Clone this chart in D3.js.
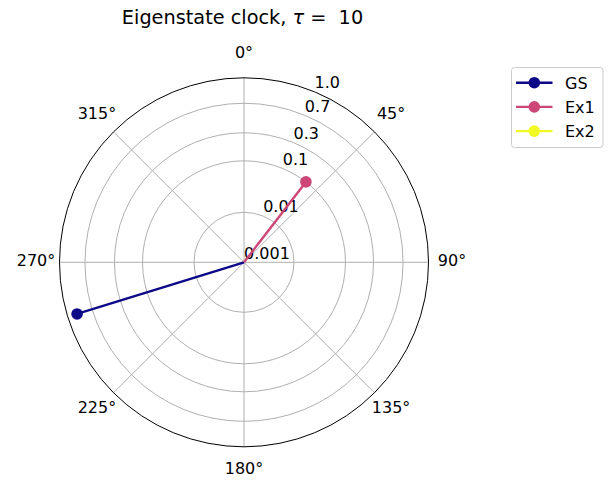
<!DOCTYPE html>
<html>
<head>
<meta charset="utf-8">
<script src="https://cdn.jsdelivr.net/npm/d3@7"></script>
<style>
  body { margin: 0; background: #fff; }
  text { font-family: "DejaVu Sans", sans-serif; fill: #000; }
</style>
</head>
<body>
<div id="chart"></div>
<script>
// eigenstate populations and phases
const states = ["GS", "Ex1", "Ex2"];
const colors = ["#0d0887", "#cc4778", "#f0f921"];
const phaseDeg = [252.8, 37.6, 120];
const population = [0.885, 0.1, 0.0005];

// axis ticks
const thetaTicks = [0, 45, 90, 135, 180, 225, 270, 315];
const rTicks = [0.001, 0.01, 0.1, 0.3, 0.7, 1.0];
const rTickLabels = ["0.001", "0.01", "0.1", "0.3", "0.7", "1.0"];
const rTickFrac = [0, 0.271, 0.550, 0.702, 0.862, 1];

const width = 616, height = 483;
const cx = 244, cy = 262.3, R = 184.5;

const svg = d3.select("#chart").append("svg")
    .attr("width", width)
    .attr("height", height);

//radial scale, piecewise through the tick positions
const rScale = d3.scaleLinear()
    .domain(rTicks)
    .range(rTickFrac.map(f => f * R));

const toXY = (deg, r) => {
    let a = deg * Math.PI / 180;
    return [cx + r * Math.sin(a), cy - r * Math.cos(a)];
};

const g = svg.append("g");

//grid circles
g.selectAll(".rgrid")
    .data(rTicks.slice(1, -1))
    .enter()
    .append("circle")
    .attr("cx", cx)
    .attr("cy", cy)
    .attr("r", d => rScale(d))
    .style("fill", "none")
    .style("stroke", "#b0b0b0")
    .style("stroke-width", 1);

//spokes
g.selectAll(".tgrid")
    .data(thetaTicks)
    .enter()
    .append("line")
    .attr("x1", cx)
    .attr("y1", cy)
    .attr("x2", d => toXY(d, R)[0])
    .attr("y2", d => toXY(d, R)[1])
    .style("stroke", "#b0b0b0")
    .style("stroke-width", 1);

//outer frame
g.append("circle")
    .attr("cx", cx)
    .attr("cy", cy)
    .attr("r", R)
    .style("fill", "none")
    .style("stroke", "#000")
    .style("stroke-width", 1);

//angle labels
g.selectAll(".tlabel")
    .data(thetaTicks)
    .enter()
    .append("text")
    .attr("x", d => toXY(d, 208)[0])
    .attr("y", d => toXY(d, 208)[1] - 2 + 5.8)
    .style("font-size", "16px")
    .style("text-anchor", "middle")
    .text(d => d + "°");

//radial labels at 22.5 deg
g.selectAll(".rlabel")
    .data(rTicks)
    .enter()
    .append("text")
    .attr("x", d => toXY(22.5, rScale(d))[0])
    .attr("y", d => toXY(22.5, rScale(d))[1] - 3.8)
    .style("font-size", "16px")
    .style("text-anchor", "start")
    .text((d, i) => rTickLabels[i]);

//state hands (below rmin are clipped like matplotlib)
const hands = states.map((s, i) => ({
    name: s, color: colors[i], theta: phaseDeg[i], p: population[i]
})).filter(d => d.p >= rTicks[0]);

g.selectAll(".hand")
    .data(hands)
    .enter()
    .append("line")
    .attr("x1", cx)
    .attr("y1", cy)
    .attr("x2", d => toXY(d.theta, rScale(d.p))[0])
    .attr("y2", d => toXY(d.theta, rScale(d.p))[1])
    .style("stroke", d => d.color)
    .style("stroke-width", 2.4);

g.selectAll(".tip")
    .data(hands)
    .enter()
    .append("circle")
    .attr("cx", d => toXY(d.theta, rScale(d.p))[0])
    .attr("cy", d => toXY(d.theta, rScale(d.p))[1])
    .attr("r", 5.8)
    .style("fill", d => d.color);

//title
svg.append("text")
    .attr("x", 242.5)
    .attr("y", 24)
    .style("font-size", "19.3px")
    .style("text-anchor", "middle")
    .html("Eigenstate clock, <tspan font-style='italic'>τ</tspan> =  10")
    .attr("xml:space", "preserve");

//legend
const lg = svg.append("g").attr("transform", "translate(511.5,67.5)");
lg.append("rect")
    .attr("width", 91.5)
    .attr("height", 80)
    .attr("rx", 3)
    .style("fill", "#fff")
    .style("fill-opacity", 0.8)
    .style("stroke", "#cccccc")
    .style("stroke-width", 1);

const items = lg.selectAll(".item")
    .data(states)
    .enter()
    .append("g")
    .attr("transform", (d, i) => "translate(0," + (15.2 + i * 24.2) + ")");

items.append("line")
    .attr("x1", 4.5)
    .attr("x2", 41)
    .style("stroke", (d, i) => colors[i])
    .style("stroke-width", 2.4);

items.append("circle")
    .attr("cx", 22.8)
    .attr("r", 5.8)
    .style("fill", (d, i) => colors[i]);

items.append("text")
    .attr("x", 53.5)
    .attr("y", 5.8)
    .style("font-size", "16px")
    .text(d => d);
</script>
</body>
</html>
